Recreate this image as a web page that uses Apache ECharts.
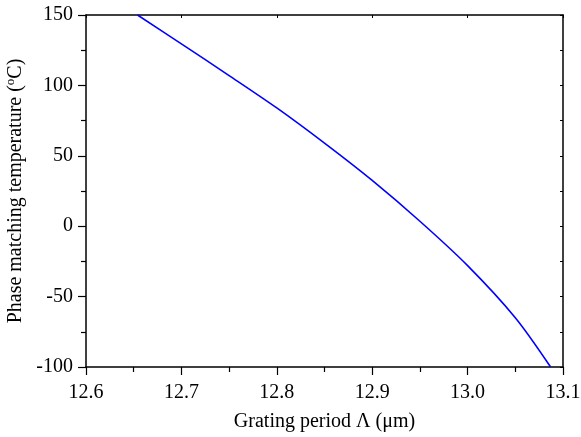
<!DOCTYPE html>
<html>
<head>
<meta charset="utf-8">
<script src="https://cdn.jsdelivr.net/npm/echarts@6/dist/echarts.min.js"></script>
<style>
  html, body { margin: 0; padding: 0; background: #fff; }
  #main { width: 581px; height: 437px; }
</style>
</head>
<body>
<div id="main"></div>
<script>
  // 数据：光栅周期 (μm) 与相位匹配温度 (°C)
  var period = [12.654, 12.70, 12.75, 12.80, 12.85, 12.90, 12.95, 13.00, 13.05, 13.087];
  var temperature = [150, 129.5, 107, 84, 59, 32.5, 3.5, -28, -65, -100];
  var xTicks = [12.6, 12.7, 12.8, 12.9, 13.0, 13.1];
  var yTicks = [-100, -50, 0, 50, 100, 150];

  var points = period.map(function (p, i) { return [p, temperature[i]]; });

  var chart = echarts.init(document.getElementById('main'));
  var font = 'Liberation Serif';
  var black = '#000';

  var option = {
    animation: false,
    backgroundColor: '#fff',
    grid: { left: 86, right: 18, top: 15, bottom: 70, outerBoundsMode: 'none', containLabel: false },
    xAxis: [{
      type: 'value',
      min: xTicks[0], max: xTicks[xTicks.length - 1], interval: 0.1,
      name: 'Grating period Λ (μm)',
      nameLocation: 'middle', nameGap: 45,
      nameTextStyle: { fontFamily: font, fontSize: 20, color: black },
      axisLine: { show: true, onZero: false, lineStyle: { color: black, width: 1.5 } },
      axisTick: { show: true, inside: false, length: 8, lineStyle: { color: black, width: 1.2 } },
      minorTick: { show: true, splitNumber: 2, length: 5, lineStyle: { color: black, width: 1.2 } },
      splitLine: { show: false },
      axisLabel: {
        fontFamily: font, fontSize: 20, color: black, margin: 16,
        formatter: function (v) { return v.toFixed(1); }
      }
    }, {
      type: 'value', position: 'top',
      min: xTicks[0], max: xTicks[xTicks.length - 1], interval: 0.1,
      axisLine: { show: true, onZero: false, lineStyle: { color: black, width: 1.5 } },
      axisTick: { show: true, inside: true, length: 3, lineStyle: { color: black } },
      minorTick: { show: false },
      splitLine: { show: false },
      axisLabel: { show: false }
    }],
    yAxis: [{
      type: 'value',
      min: yTicks[0], max: yTicks[yTicks.length - 1], interval: 50,
      name: 'Phase matching temperature ({sup|o}C)',
      nameLocation: 'middle', nameGap: 50,
      nameTextStyle: {
        fontFamily: font, fontSize: 20, color: black,
        rich: { sup: { fontFamily: font, fontSize: 13, color: black, verticalAlign: 'top', padding: [0, 0, 9, 0] } }
      },
      axisLine: { show: true, onZero: false, lineStyle: { color: black, width: 1.5 } },
      axisTick: { show: true, inside: false, length: 8, lineStyle: { color: black, width: 1.2 } },
      minorTick: { show: true, splitNumber: 2, length: 5, lineStyle: { color: black, width: 1.2 } },
      splitLine: { show: false },
      axisLabel: { fontFamily: font, fontSize: 20, color: black, margin: 13 }
    }, {
      type: 'value', position: 'right',
      min: yTicks[0], max: yTicks[yTicks.length - 1], interval: 50,
      axisLine: { show: true, onZero: false, lineStyle: { color: black, width: 1.5 } },
      axisTick: { show: true, inside: true, length: 3, lineStyle: { color: black } },
      minorTick: { show: true, splitNumber: 2, length: 3, lineStyle: { color: black } },
      splitLine: { show: false },
      axisLabel: { show: false }
    }],
    series: [{
      type: 'line',
      data: points,
      smooth: 0.3,
      showSymbol: false,
      lineStyle: { color: '#0000ff', width: 1.6 },
      clip: true
    }]
  };

  chart.setOption(option);
</script>
</body>
</html>
